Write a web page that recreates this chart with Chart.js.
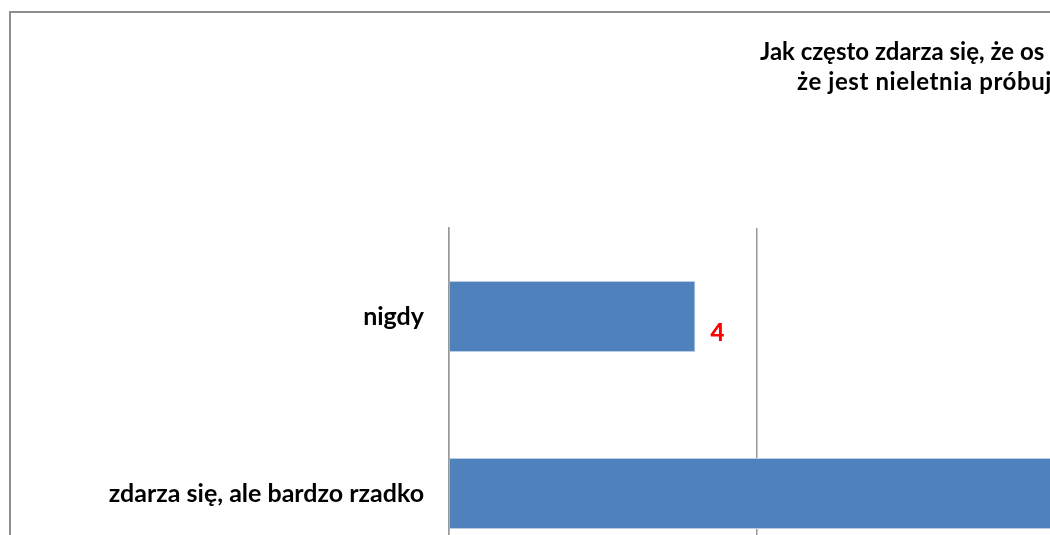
<!DOCTYPE html>
<html>
<head>
<meta charset="utf-8">
<script src="https://cdn.jsdelivr.net/npm/chart.js@4"></script>
<style>
    html, body { margin: 0; padding: 0; background: #fff; overflow: hidden; }
    #frame { position: absolute; left: 9px; top: 11px; width: 1200px; height: 700px;
             border-left: 2px solid #8e8e8e; border-top: 2px solid #8e8e8e; }
    #wrap { position: absolute; left: 0; top: 0; width: 1100px; height: 622px; }
</style>
</head>
<body>
<div id="frame"></div>
<div id="wrap"><canvas id="barChart"></canvas></div>

<script>
// dane z wykresu
var categories = ['nigdy', 'zdarza się, ale bardzo rzadko'];
var values = [4, 12];
var titleLines = ['Jak często zdarza się, że os', 'że jest nieletnia próbuj'];

var FONT = 'Lato, "Open Sans", sans-serif';

// tytuł (przycięty jak na oryginale)
var titlePlugin = {
    id: 'titleText',
    afterDraw: function(chart) {
        var ctx = chart.ctx;
        ctx.save();
        ctx.fillStyle = '#000';
        ctx.font = 'bold 24px ' + FONT;
        ctx.textBaseline = 'alphabetic';
        ctx.textAlign = 'left';
        ctx.fillText(titleLines[0], 760, 60);
        ctx.letterSpacing = '0.6px';
        ctx.fillText(titleLines[1], 797, 90);
        ctx.restore();
    }
};

// etykiety wartości
var labelPlugin = {
    id: 'valueLabels',
    afterDatasetsDraw: function(chart) {
        var ctx = chart.ctx;
        var meta = chart.getDatasetMeta(0);
        ctx.save();
        ctx.fillStyle = '#ff0000';
        ctx.font = '900 24px ' + FONT;
        ctx.textAlign = 'left';
        ctx.textBaseline = 'middle';
        meta.data.forEach(function(bar, i) {
            ctx.fillText(values[i], bar.x + 15, bar.y + 17);
        });
        ctx.restore();
    }
};

var ctx = document.getElementById('barChart').getContext('2d');
var chart = new Chart(ctx, {
    type: 'bar',
    data: {
        labels: categories,
        datasets: [{
            data: values,
            backgroundColor: '#4f81bd',
            borderColor: '#b9cde5',
            borderWidth: 1,
            categoryPercentage: 0.4,
            barPercentage: 1.0
        }]
    },
    options: {
        indexAxis: 'y',
        responsive: true,
        maintainAspectRatio: false,
        animation: false,
        layout: { padding: { left: 0, right: 35, top: 228, bottom: 14 } },
        plugins: {
            legend: { display: false },
            tooltip: { enabled: false }
        },
        scales: {
            x: {
                min: 0,
                max: 10,
                ticks: { display: false, stepSize: 5 },
                grid: { color: '#9a9a9a', lineWidth: 1.5, drawTicks: false },
                border: { display: false }
            },
            y: {
                afterFit: function(scale) { scale.width = 449; },
                ticks: {
                    color: '#000',
                    padding: 25,
                    font: { family: FONT, size: 25, weight: 'bold' }
                },
                grid: { display: false, drawTicks: false },
                border: { display: true, color: '#9a9a9a', width: 1.5 }
            }
        }
    },
    plugins: [titlePlugin, labelPlugin]
});
</script>
</body>
</html>
